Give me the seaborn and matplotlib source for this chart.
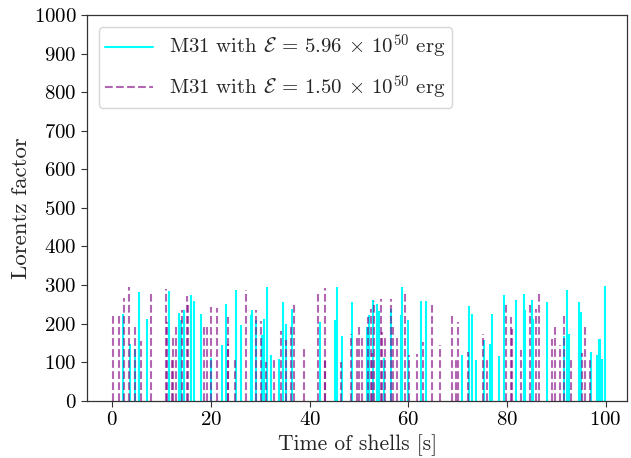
import matplotlib
matplotlib.use("Agg")
import matplotlib.pyplot as plt
import seaborn as sns
from matplotlib.lines import Line2D

# ---- data ----
cyan_t = [2.1, 3.57, 4.66, 5.4, 5.5, 7.1, 11.5, 13.45, 13.9, 14.5, 16.0, 16.5, 18.05,
          20.1, 22.3, 23.1, 25.0, 26.2, 28.05, 28.25, 29.2, 30.4, 30.75, 31.45, 32.1,
          33.9, 34.7, 35.15, 36.4, 42.1, 45.2, 45.5, 46.65, 48.7, 51.7, 52.05, 52.9,
          53.75, 54.1, 55.0, 56.45, 58.5, 58.7, 60.0, 62.5, 63.7, 71.0, 72.35, 73.0,
          73.7, 75.4, 76.5, 76.9, 78.4, 79.4, 81.95, 83.4, 83.6, 85.0, 85.4, 88.1,
          91.5, 92.15, 92.6, 94.65, 95.1, 97.0, 98.2, 98.6, 98.8, 99.2, 99.9]
cyan_g = [226, 146, 135, 282, 213, 213, 284, 228, 210, 236, 274, 258, 226,
          112, 144, 252, 287, 196, 222, 235, 209, 170, 213, 294, 118,
          109, 256, 200, 239, 205, 209, 294, 167, 255, 190, 222, 260,
          252, 233, 112, 239, 222, 294, 209, 259, 259, 118, 245, 226,
          105, 157, 146, 224, 115, 274, 260, 276, 236, 260, 213, 256,
          167, 287, 173, 256, 231, 127, 118, 159, 161, 109, 297]

purple_t = [0.2, 1.35, 2.36, 3.44, 4.53, 5.88, 7.77, 10.9, 11.15, 12.17, 12.4, 13.0,
            14.2, 15.07, 15.3, 18.6, 19.3, 20.1, 21.3, 23.4, 23.5, 24.8, 27.2, 29.07,
            30.08, 31.1, 32.8, 34.3, 35.15, 36.2, 36.85, 38.9, 41.7, 43.05, 43.2, 46.3,
            48.5, 49.55, 50.1, 50.7, 51.8, 52.4, 52.7, 53.1, 54.4, 54.6, 55.2, 56.45,
            57.0, 57.8, 59.3, 60.2, 61.7, 62.9, 64.8, 66.45, 68.95, 69.6, 70.0, 72.2,
            75.25, 75.9, 79.9, 80.8, 81.0, 82.95, 84.7, 85.9, 86.5, 89.1, 89.8, 90.8,
            91.6, 92.96, 95.3, 95.9, 96.8]
purple_g = [224, 228, 267, 295, 200, 155, 276, 291, 205, 109, 166, 200,
            236, 272, 256, 192, 193, 243, 241, 216, 148, 109, 287, 236,
            206, 101, 109, 180, 157, 200, 252, 141, 276, 293, 103, 101,
            173, 170, 191, 167, 217, 239, 124, 259, 265, 179, 170, 265,
            190, 167, 285, 118, 120, 153, 250, 144, 219, 107, 205, 127,
            174, 109, 252, 216, 185, 131, 252, 239, 276, 159, 200, 144,
            228, 109, 124, 200, 109]

label_a = r"M31 with $\mathcal{E}$ = 5.96 $\times$ 10$^{50}$ erg"
label_b = r"M31 with $\mathcal{E}$ = 1.50 $\times$ 10$^{50}$ erg"

sns.set_theme(style="ticks")
plt.rcParams["font.family"] = ["serif"]
plt.rcParams["font.serif"] = ["cmr10", "DejaVu Serif"]
plt.rcParams["mathtext.fontset"] = "cm"
plt.rcParams["axes.formatter.use_mathtext"] = True
plt.rcParams["axes.unicode_minus"] = False

fig = plt.figure(figsize=(6.31, 4.58), dpi=100)
ax = fig.add_axes([0.138, 0.125, 0.856, 0.842])

ax.vlines(cyan_t, 0, cyan_g, colors="cyan", linewidth=1.5, linestyles="solid")
ax.vlines(purple_t, 0, purple_g, colors="purple", linewidth=1.5,
          linestyles="dashed", alpha=0.6)

ax.set_ylim(0, 1000)
ax.set_xlim(-5.1, 104.4)
ax.set_xticks([0, 20, 40, 60, 80, 100])
ax.set_yticks(range(0, 1001, 100))
ax.tick_params(labelsize=15, direction="out", length=4, width=0.8, colors="#333333",
               labelcolor="black")
for s in ax.spines.values():
    s.set_color("#333333")
    s.set_linewidth(0.9)
ax.set_xlabel("Time of shells [s]", fontsize=15.5)
ax.set_ylabel("Lorentz factor", fontsize=16.5, labelpad=2)

handles = [Line2D([], [], color="cyan", lw=1.5, ls="solid"),
           Line2D([], [], color="purple", lw=1.5, ls="dashed", alpha=0.6)]
ax.legend(handles, [label_a, label_b], loc="upper left", fontsize=15,
          frameon=True, fancybox=True, framealpha=0.8, edgecolor="#cccccc",
          handlelength=2.3, borderpad=0.3, labelspacing=0.6, borderaxespad=0.55,
          handletextpad=0.8)

fig.savefig("out.png", dpi=100)
